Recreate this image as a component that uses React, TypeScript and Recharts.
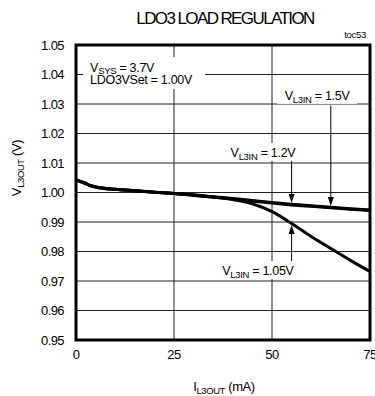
import React from "react";
import {
  LineChart,
  Line,
  XAxis,
  YAxis,
  CartesianGrid,
  ReferenceArea,
  ReferenceLine,
  ReferenceDot,
} from "recharts";

// load current (mA)
const loadCurrent = [0, 2, 4, 6, 10, 15, 20, 25, 30, 35, 40, 45, 50, 55, 60, 65, 70, 75];
// output voltage (V) per input voltage
const vin150 = [1.0043, 1.0033, 1.0022, 1.0016, 1.0011, 1.0006, 1.0001, 0.9997, 0.9992, 0.9986, 0.998, 0.9973, 0.9966, 0.996, 0.9955, 0.995, 0.9945, 0.9941];
const vin120 = [1.0043, 1.0033, 1.0022, 1.0016, 1.0011, 1.0006, 1.0001, 0.9997, 0.9991, 0.9985, 0.9978, 0.9971, 0.9964, 0.9958, 0.9953, 0.9948, 0.9943, 0.9939];
const vin105 = [1.0043, 1.0033, 1.0022, 1.0016, 1.0011, 1.0006, 1.0001, 0.9997, 0.999, 0.9984, 0.9976, 0.9962, 0.9935, 0.9895, 0.9851, 0.981, 0.977, 0.9732];

const xTicks = [0, 25, 50, 75];
const yTicks = [0.95, 0.96, 0.97, 0.98, 0.99, 1.0, 1.01, 1.02, 1.03, 1.04, 1.05];

const data = loadCurrent.map((x, i) => ({
  x,
  v150: vin150[i],
  v120: vin120[i],
  v105: vin105[i],
}));

const FONT = "'Liberation Sans', Arial, Helvetica, sans-serif";

const VinLabel = ({ cx, cy, value, w }: any) => (
  <g>
    <rect x={cx - w / 2} y={cy - 9} width={w} height={18} fill="#fff" />
    <text
      x={cx}
      y={cy + 5}
      textAnchor="middle"
      fontFamily={FONT}
      fontSize={12.5}
      letterSpacing={-0.3}
      fill="#000"
    >
      V
      <tspan fontSize={9.5} dy={3}>L3IN</tspan>
      <tspan dy={-3}>{" = " + value}</tspan>
    </text>
  </g>
);

const Arrowhead = ({ cx, cy, up }: any) => {
  const d = up ? 9 : -9;
  return (
    <polygon
      points={`${cx},${cy} ${cx - 3},${cy + d} ${cx + 3},${cy + d}`}
      fill="#000"
    />
  );
};

const CondBox = ({ cx, cy }: any) => (
  <g>
    <rect x={cx - 7} y={cy - 15} width={122} height={32} fill="#fff" />
    <text x={cx} y={cy} fontFamily={FONT} fontSize={12.5} letterSpacing={-0.3} fill="#000">
      V
      <tspan fontSize={9.5} dy={2}>SYS</tspan>
      <tspan dy={-2}> = 3.7V</tspan>
    </text>
    <text x={cx} y={cy + 12} fontFamily={FONT} fontSize={12.5} letterSpacing={-0.3} fill="#000">
      LDO3VSet = 1.00V
    </text>
  </g>
);

const YLabel = () => (
  <text
    x={0}
    y={0}
    transform="translate(21 168) rotate(-90)"
    textAnchor="middle"
    fontFamily={FONT}
    fontSize={13}
    letterSpacing={-0.4}
    fill="#000"
  >
    V
    <tspan fontSize={9.5} dy={3}>L3OUT</tspan>
    <tspan dy={-3}> (V)</tspan>
  </text>
);

const XLabel = () => (
  <text
    x={224}
    y={391}
    textAnchor="middle"
    fontFamily={FONT}
    fontSize={13}
    letterSpacing={-0.4}
    fill="#000"
  >
    I
    <tspan fontSize={9.5} dy={3}>L3OUT</tspan>
    <tspan dy={-3}> (mA)</tspan>
  </text>
);

const tickStyle = { fontFamily: FONT, fontSize: 13, fill: "#000", letterSpacing: -0.6 };

export default function App() {
  return (
    <div style={{ position: "absolute", left: 0, top: 0, width: 375, height: 396, background: "#fff" }}>
      <div
        style={{
          position: "absolute",
          left: 0,
          top: 9,
          width: 450,
          textAlign: "center",
          fontFamily: FONT,
          fontSize: 17,
          letterSpacing: -1.6,
          lineHeight: "20px",
        }}
      >
        LDO3 LOAD REGULATION
      </div>
      <div
        style={{
          position: "absolute",
          right: 9,
          top: 29,
          fontFamily: FONT,
          fontSize: 9.5,
          letterSpacing: -0.3,
          lineHeight: "12px",
        }}
      >
        toc53
      </div>
      <LineChart
        width={375}
        height={396}
        data={data}
        margin={{ top: 45, right: 5, bottom: 26, left: 6 }}
        style={{ position: "absolute", left: 0, top: 0 }}
      >
        <CartesianGrid stroke="#222" strokeWidth={1} />
        <XAxis
          dataKey="x"
          type="number"
          domain={[0, 75]}
          ticks={xTicks}
          height={30}
          axisLine={false}
          tickLine={false}
          tickSize={0}
          tickMargin={10}
          tick={tickStyle}
          interval={0}
          label={<XLabel />}
        />
        <YAxis
          type="number"
          domain={[0.95, 1.05]}
          ticks={yTicks}
          width={70}
          axisLine={false}
          tickLine={false}
          tickSize={0}
          tickMargin={12}
          tick={tickStyle}
          interval={0}
          tickFormatter={(v: number) => v.toFixed(2)}
          label={<YLabel />}
        />
        <Line dataKey="v150" type="monotone" stroke="#000" strokeWidth={3} dot={false} isAnimationActive={false} />
        <Line dataKey="v120" type="monotone" stroke="#000" strokeWidth={3} dot={false} isAnimationActive={false} />
        <Line dataKey="v105" type="monotone" stroke="#000" strokeWidth={3} dot={false} isAnimationActive={false} />
        <ReferenceArea x1={0} x2={75} y1={0.95} y2={1.05} fill="none" fillOpacity={0} stroke="#000" strokeWidth={3} />

        <ReferenceDot x={3.6} y={1.0408} r={0} shape={(p: any) => <CondBox {...p} />} />

        <ReferenceLine segment={[{ x: 65, y: 1.0295 }, { x: 65, y: 0.9985 }]} stroke="#000" strokeWidth={1} />
        <ReferenceDot x={65} y={0.9954} r={0} shape={(p: any) => <Arrowhead {...p} />} />
        <ReferenceDot x={61.5} y={1.0331} r={0} shape={(p: any) => <VinLabel {...p} value="1.5V" w={80} />} />

        <ReferenceLine segment={[{ x: 55, y: 1.0112 }, { x: 55, y: 0.9995 }]} stroke="#000" strokeWidth={1} />
        <ReferenceDot x={55} y={0.9964} r={0} shape={(p: any) => <Arrowhead {...p} />} />
        <ReferenceDot x={47.7} y={1.0137} r={0} shape={(p: any) => <VinLabel {...p} value="1.2V" w={70} />} />

        <ReferenceLine segment={[{ x: 55, y: 0.9766 }, { x: 55, y: 0.986 }]} stroke="#000" strokeWidth={1} />
        <ReferenceDot x={55} y={0.989} r={0} shape={(p: any) => <Arrowhead {...p} up />} />
        <ReferenceDot x={46.4} y={0.9737} r={0} shape={(p: any) => <VinLabel {...p} value="1.05V" w={80} />} />
      </LineChart>
    </div>
  );
}
